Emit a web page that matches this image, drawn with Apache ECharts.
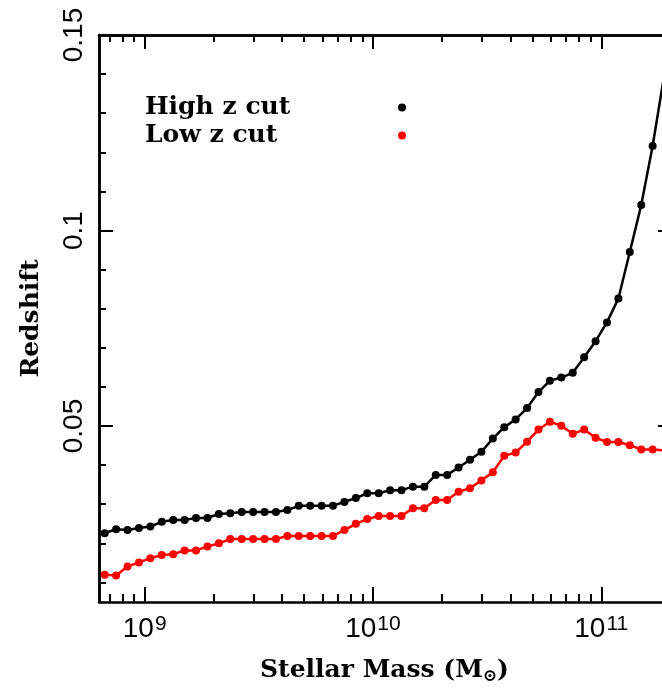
<!DOCTYPE html>
<html>
<head>
<meta charset="utf-8">
<script src="https://cdn.jsdelivr.net/npm/echarts@6/dist/echarts.min.js"></script>
<style>html,body{margin:0;padding:0;background:#fff;}#c{width:662px;height:690px;}</style>
</head>
<body>
<div id="c"></div>
<script>
// log10 stellar mass bin centres
var logMass = [8.825, 8.875, 8.925, 8.975, 9.025, 9.075, 9.125, 9.175, 9.225, 9.275,
  9.325, 9.375, 9.425, 9.475, 9.525, 9.575, 9.625, 9.675, 9.725, 9.775,
  9.825, 9.875, 9.925, 9.975, 10.025, 10.075, 10.125, 10.175, 10.225, 10.275,
  10.325, 10.375, 10.425, 10.475, 10.525, 10.575, 10.625, 10.675, 10.725, 10.775,
  10.825, 10.875, 10.925, 10.975, 11.025, 11.075, 11.125, 11.175, 11.225, 11.275];
var highZ = [0.0226, 0.0236, 0.0234, 0.0239, 0.0243, 0.0255, 0.0260, 0.0260, 0.0265, 0.0265,
  0.0275, 0.0277, 0.0280, 0.0280, 0.0280, 0.0280, 0.0285, 0.0296, 0.0296, 0.0296,
  0.0296, 0.0306, 0.0316, 0.0328, 0.0328, 0.0336, 0.0336, 0.0345, 0.0345, 0.0375,
  0.0375, 0.0394, 0.0414, 0.0434, 0.0468, 0.0497, 0.0517, 0.0546, 0.0587, 0.0616,
  0.0624, 0.0636, 0.0676, 0.0717, 0.0765, 0.0826, 0.0945, 0.1065, 0.1216, 0.1395];
var lowZ = [0.0120, 0.0118, 0.0141, 0.0151, 0.0162, 0.0170, 0.0172, 0.0182, 0.0182, 0.0192,
  0.0200, 0.0211, 0.0211, 0.0211, 0.0211, 0.0211, 0.0219, 0.0219, 0.0219, 0.0219,
  0.0219, 0.0234, 0.0250, 0.0262, 0.0270, 0.0270, 0.0270, 0.0290, 0.0290, 0.0311,
  0.0311, 0.0332, 0.0341, 0.0361, 0.0382, 0.0424, 0.0432, 0.0460, 0.0491, 0.0511,
  0.0501, 0.0480, 0.0491, 0.0470, 0.0459, 0.0459, 0.0451, 0.0440, 0.0440, 0.0438];
var seriesNames = ['High z cut', 'Low z cut'];
var xMajorTicks = [1e9, 1e10, 1e11];
var xMinorTicks = [7e8, 8e8, 9e8, 2e9, 3e9, 4e9, 5e9, 6e9, 7e9, 8e9, 9e9,
  2e10, 3e10, 4e10, 5e10, 6e10, 7e10, 8e10, 9e10];
var yMajorTicks = [0.05, 0.1, 0.15];
var yMinorTicks = [0.01, 0.02, 0.03, 0.04, 0.06, 0.07, 0.08, 0.09, 0.11, 0.12, 0.13, 0.14];
var yTickLabels = {0.05: '0.05', 0.1: '0.1', 0.15: '0.15'};

var SERIF = 'DejaVu Serif';
var SANS = 'Liberation Sans';
var xMin = Math.pow(10, 8.8), xMax = Math.pow(10, 11.266);
var yMin = 0.005, yMax = 0.15;

function pairs(ys) {
  return logMass.map(function (lm, i) { return [Math.pow(10, lm), ys[i]]; });
}

function xAxisDef(pos, ticks, len, showLabel) {
  return {
    type: 'log', logBase: 10, min: xMin, max: xMax, position: pos,
    axisLine: {show: showLabel || pos === 'top', lineStyle: {color: '#000', width: 2.5}},
    axisTick: {show: true, inside: true, length: len, customValues: ticks,
      lineStyle: {color: '#000', width: 2}},
    axisLabel: showLabel ? {
      show: true, customValues: xMajorTicks, margin: 10,
      formatter: function (v) {
        var e = Math.round(Math.log10(v));
        return '{b|10}{s|' + e + '}';
      },
      rich: {
        b: {fontFamily: SANS, fontSize: 28, color: '#000', lineHeight: 28, padding: [6, 0, 0, 0]},
        s: {fontFamily: SANS, fontSize: 21, color: '#000', lineHeight: 21, padding: [0, 0, 4, 1]}
      }
    } : {show: false},
    splitLine: {show: false},
    name: showLabel ? '{t|Stellar Mass (M}{u|\u2299}{t|)}' : '',
    nameLocation: 'middle', nameGap: 54,
    nameTextStyle: {
      padding: [0, 0, 0, 8],
      rich: {
        t: {fontFamily: SERIF, fontWeight: 'bold', fontSize: 25, color: '#000'},
        u: {fontFamily: SERIF, fontWeight: 'bold', fontSize: 17, color: '#000', padding: [12, 0, 0, 0]}
      }
    }
  };
}

function yAxisDef(pos, ticks, len, showLabel) {
  return {
    type: 'value', min: yMin, max: yMax, position: pos,
    axisLine: {show: pos === 'left', lineStyle: {color: '#000', width: 2.5}},
    axisTick: {show: true, inside: true, length: len, customValues: ticks,
      lineStyle: {color: '#000', width: 2}},
    axisLabel: showLabel ? {
      show: true, customValues: yMajorTicks, rotate: 90, margin: 11,
      fontFamily: SANS, fontSize: 28, color: '#000',
      formatter: function (v) { return yTickLabels[v] || String(v); }
    } : {show: false},
    splitLine: {show: false},
    name: showLabel ? 'Redshift' : '',
    nameLocation: 'middle', nameGap: 55, nameRotate: 90,
    nameTextStyle: {fontFamily: SERIF, fontWeight: 'bold', fontSize: 25, color: '#000'}
  };
}

var chart = echarts.init(document.getElementById('c'), null, {renderer: 'canvas'});
chart.setOption({
  backgroundColor: '#fff',
  animation: false,
  grid: {left: 99, top: 35, right: 0, height: 570, containLabel: false},
  xAxis: [
    xAxisDef('bottom', xMajorTicks, 15, true),
    xAxisDef('bottom', xMinorTicks, 8, false),
    xAxisDef('top', xMajorTicks, 14, false),
    xAxisDef('top', xMinorTicks, 7, false)
  ],
  yAxis: [
    yAxisDef('left', yMajorTicks, 14, true),
    yAxisDef('left', yMinorTicks, 7, false),
    yAxisDef('right', [0.05, 0.1], 4, false)
  ],
  legend: {
    left: 140, top: 90, orient: 'vertical', align: 'right',
    itemWidth: 8, itemHeight: 8, itemGap: 3, icon: 'circle',
    data: seriesNames,
    formatter: function (n) { return '{a|' + n + '}'; },
    textStyle: {
      rich: {a: {fontFamily: SERIF, fontWeight: 'bold', fontSize: 25, color: '#000', width: 248, align: 'left', lineHeight: 30}}
    }
  },
  series: [
    {name: seriesNames[0], type: 'line', data: pairs(highZ), xAxisIndex: 0, yAxisIndex: 0,
      symbol: 'circle', symbolSize: 8, showSymbol: true,
      itemStyle: {color: '#000'}, lineStyle: {color: '#000', width: 2.5}},
    {name: seriesNames[1], type: 'line', data: pairs(lowZ), xAxisIndex: 0, yAxisIndex: 0,
      symbol: 'circle', symbolSize: 8, showSymbol: true,
      itemStyle: {color: '#ff0000'}, lineStyle: {color: '#ff0000', width: 2.5}}
  ]
});
</script>
</body>
</html>
